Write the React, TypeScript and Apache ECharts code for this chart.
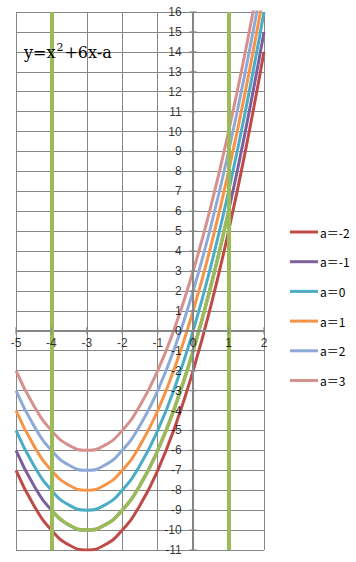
import React, { useEffect, useRef } from "react";
import * as echarts from "echarts";

const xs = [-5, -4.5, -4, -3.5, -3, -2.5, -2, -1.5, -1, -0.5, 0, 0.5, 1, 1.5, 2];
const aMinus2 = [-7, -8.75, -10, -10.75, -11, -10.75, -10, -8.75, -7, -4.75, -2, 1.25, 5, 9.25, 14];
const aMinus1 = [-6, -7.75, -9, -9.75, -10, -9.75, -9, -7.75, -6, -3.75, -1, 2.25, 6, 10.25, 15];
const a0 = [-5, -6.75, -8, -8.75, -9, -8.75, -8, -6.75, -5, -2.75, 0, 3.25, 7, 11.25, 16];
const a1 = [-4, -5.75, -7, -7.75, -8, -7.75, -7, -5.75, -4, -1.75, 1, 4.25, 8, 12.25, 17];
const a2 = [-3, -4.75, -6, -6.75, -7, -6.75, -6, -4.75, -3, -0.75, 2, 5.25, 9, 13.25, 18];
const a3 = [-2, -3.75, -5, -5.75, -6, -5.75, -5, -3.75, -2, 0.25, 3, 6.25, 10, 14.25, 19];
const greenXs = [-4, -3.5, -3, -2.5, -2, -1.5, -1, -0.5, 0, 0.5, 1];
const greenYs = [-9, -9.75, -10, -9.75, -9, -7.75, -6, -3.75, -1, 2.25, 6];
const boundaryXs = [-4, 1];
const xTickValues = [-5, -4, -3, -2, -1, 0, 1, 2];
const yTickValues = [-11, -10, -9, -8, -7, -6, -5, -4, -3, -2, -1, 0, 1, 2, 3, 4, 5, 6, 7, 8, 9, 10, 11, 12, 13, 14, 15, 16];
const seriesNames = ["a＝-2", "a＝-1", "a＝0", "a＝1", "a＝2", "a＝3"];
const seriesValues = [aMinus2, aMinus1, a0, a1, a2, a3];
const seriesColors = ["#BE4B48", "#7D5FA0", "#4AACC5", "#F59446", "#8EA9D8", "#D6908E"];
const green = "#9BBB59";

export default function App() {
  const ref = useRef<HTMLDivElement>(null);
  useEffect(() => {
    if (!ref.current) return;
    const chart = echarts.init(ref.current, null, { renderer: "svg" });
    const gridColor = "#868686";
    const labelFont = "Liberation Sans, Arial, sans-serif";
    const curveSeries = seriesNames.map((name, k) => ({
      name,
      type: "line",
      smooth: true,
      symbol: "none",
      clip: true,
      z: 3,
      data: xs.map((x, i) => [x, seriesValues[k][i]]),
      lineStyle: { width: 3, color: seriesColors[k] },
      itemStyle: { color: seriesColors[k] },
    }));
    chart.setOption({
      animation: false,
      backgroundColor: "#fff",
      title: {
        text: "y=x{sup|2}+6x-a",
        left: 19,
        top: 37,
        textStyle: {
          fontFamily: "DejaVu Serif, Liberation Serif, serif",
          fontSize: 16,
          fontWeight: "normal",
          color: "#000",
          rich: {
            sup: { fontSize: 11, padding: [0, 1, 9, 1], fontFamily: "DejaVu Serif, serif", color: "#000" },
          },
        },
      },
      legend: {
        data: seriesNames,
        orient: "vertical",
        left: 285,
        top: 221,
        itemWidth: 28,
        itemHeight: 3,
        itemGap: 17.7,
        icon: "rect",
        textStyle: { fontFamily: "'Noto Sans CJK JP', sans-serif", fontSize: 12, color: "#000", padding: [0, 0, 0, -3] },
      },
      grid: { left: 16, right: 92, top: 12, bottom: 12, containLabel: false },
      xAxis: {
        type: "value",
        min: -5,
        max: 2,
        interval: 1,
        axisLine: { show: false },
        axisTick: { show: false },
        axisLabel: { show: false },
        splitLine: { show: true, lineStyle: { color: gridColor, width: 1 } },
      },
      yAxis: {
        type: "value",
        min: -11,
        max: 16,
        interval: 1,
        axisLine: { show: false },
        axisTick: { show: false },
        axisLabel: { show: false },
        splitLine: { show: true, lineStyle: { color: gridColor, width: 1 } },
      },
      series: [
        {
          name: "axes",
          type: "line",
          silent: true,
          z: 2,
          symbol: "none",
          data: [],
          markLine: {
            silent: true,
            symbol: "none",
            label: { show: false },
            lineStyle: { color: gridColor, width: 2, type: "solid" },
            data: [{ xAxis: 0 }, { yAxis: 0 }],
          },
        },
        ...curveSeries,
        {
          name: "range",
          type: "line",
          smooth: true,
          symbol: "none",
          clip: true,
          z: 4,
          data: greenXs.map((x, i) => [x, greenYs[i]]),
          lineStyle: { width: 3.5, color: green },
          itemStyle: { color: green },
          markLine: {
            silent: true,
            symbol: "none",
            label: { show: false },
            lineStyle: { color: green, width: 4, type: "solid" },
            data: boundaryXs.map((x) => ({ xAxis: x })),
          },
        },
        {
          name: "xticks",
          type: "scatter",
          silent: true,
          z: 5,
          symbol: "rect",
          symbolSize: [1.5, 7],
          itemStyle: { color: gridColor },
          label: {
            show: true,
            position: "bottom",
            distance: 3,
            color: "#000",
            fontSize: 12,
            fontFamily: labelFont,
            formatter: (p: any) => String(p.value[0]),
          },
          data: xTickValues.map((x) => [x, 0]),
        },
        {
          name: "yticks",
          type: "scatter",
          silent: true,
          z: 5,
          symbol: "rect",
          symbolSize: [7, 1.5],
          itemStyle: { color: gridColor },
          label: {
            show: true,
            position: "left",
            distance: 8,
            color: "#000",
            fontSize: 12,
            fontFamily: labelFont,
            formatter: (p: any) => String(p.value[1]),
          },
          data: yTickValues.map((y) => [0, y]),
        },
      ],
    });
    return () => chart.dispose();
  }, []);
  return <div ref={ref} style={{ width: 356, height: 562, position: "absolute", left: 0, top: 0 }} />;
}
